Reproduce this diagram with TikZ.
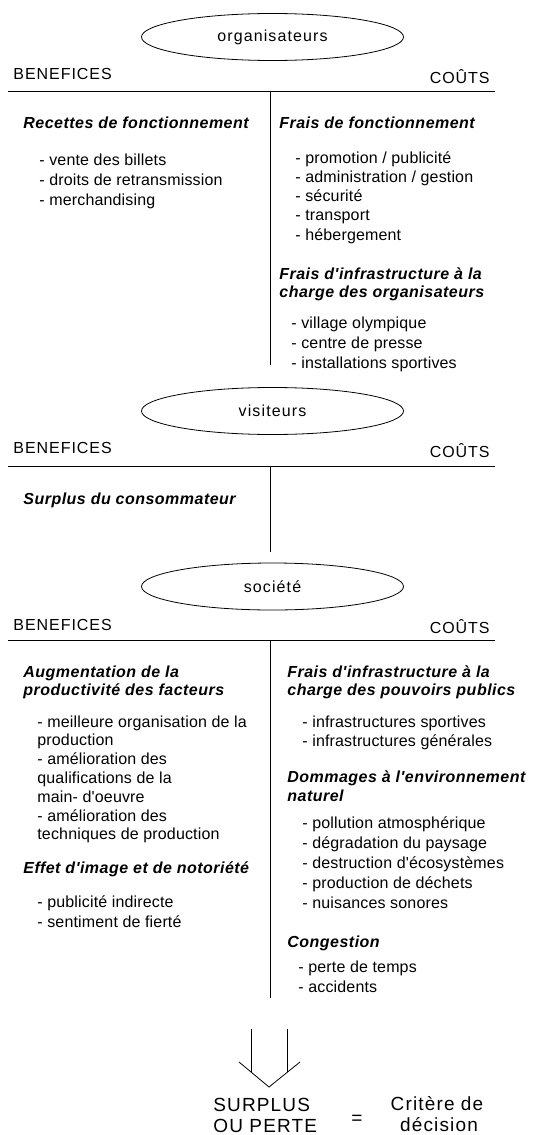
\documentclass[tikz,border=0pt]{standalone}
\usepackage{fontspec}
\setmainfont{Liberation Sans}
\newfontfamily\fgroupe[LetterSpace=7,Ligatures=TeXOff]{Liberation Sans}
\newfontfamily\fentete[LetterSpace=6,Ligatures=TeXOff]{Liberation Sans}
\newfontfamily\frub[LetterSpace=3,Ligatures=TeXOff]{Liberation Sans}
\newfontfamily\fposte[LetterSpace=1,Ligatures=TeXOff]{Liberation Sans}
\newcommand\fontgroupe{\fgroupe\fontsize{16}{19}\selectfont}
\newcommand\fontentete{\fentete\fontsize{16}{19}\selectfont}
\newcommand\fontrub{\frub\bfseries\itshape\fontsize{16}{19}\selectfont}
\newcommand\fontposte{\fposte\fontsize{16}{19}\selectfont}
\newcommand\fontbilan{\fentete\fontsize{19}{21}\selectfont}
\usetikzlibrary{shapes.geometric}

\begin{document}
\begin{tikzpicture}[x=1pt,y=-1pt,line width=0.8pt,
  groupe/.style={draw,ellipse,minimum width=262pt,minimum height=47pt,inner sep=0pt,font=\fontgroupe},
  entete/.style={inner sep=0pt,font=\fontentete},
  rubrique/.style={anchor=base west,inner sep=0pt,font=\fontrub},
  poste/.style={anchor=base west,inner sep=0pt,font=\fontposte},
  bilan/.style={inner sep=0pt,font=\fontbilan}]
\useasboundingbox (0,0) rectangle (548,1135);

% organisateurs
\node[groupe] (org) at (272.5,37) {organisateurs};
\node[entete,anchor=base west] (org-ben) at (13,79) {BENEFICES};
\node[entete,anchor=base east] (org-cou) at (490,83) {COÛTS};
\coordinate (org-h) at (270,91);
\draw (8,91) -- (495,91);
\draw (org-h) -- ++(0,274);
\node[rubrique] (org-rb) at (23,128) {Recettes de fonctionnement};
\foreach \t [count=\i] in {- vente des billets, - droits de retransmission, - merchandising}
  \node[poste] (org-b\i) at (39,145+20*\i) {\t};
\node[rubrique] (org-rc) at (279,128) {Frais de fonctionnement};
\foreach \t [count=\i] in {- promotion / publicité, - administration / gestion, - sécurité, - transport, - hébergement}
  \node[poste] (org-c\i) at (295,143.7+19.3*\i) {\t};
\node[rubrique] (org-ri1) at (279,279) {Frais d'infrastructure à la};
\node[rubrique] (org-ri2) at (279,297) {charge des organisateurs};
\foreach \t [count=\i] in {- village olympique, - centre de presse, - installations sportives}
  \node[poste] (org-i\i) at (291,308+20*\i) {\t};

% visiteurs
\node[groupe] (vis) at (272.5,411) {visiteurs};
\node[entete,anchor=base west] (vis-ben) at (13,453) {BENEFICES};
\node[entete,anchor=base east] (vis-cou) at (490,457) {COÛTS};
\coordinate (vis-h) at (270,466);
\draw (8,466) -- (495,466);
\draw (vis-h) -- ++(0,86);
\node[rubrique] (vis-rb) at (23,504) {Surplus du consommateur};

% societe
\node[groupe] (soc) at (272.5,586.5) {société};
\node[entete,anchor=base west] (soc-ben) at (13,630) {BENEFICES};
\node[entete,anchor=base east] (soc-cou) at (490,633) {COÛTS};
\coordinate (soc-h) at (270,640);
\draw (8,640) -- (495,640);
\draw (soc-h) -- ++(0,358);
\node[rubrique] (soc-ra1) at (23,677) {Augmentation de la};
\node[rubrique] (soc-ra2) at (23,695) {productivité des facteurs};
\foreach \t [count=\i] in {- meilleure organisation de la, production, - amélioration des, qualifications de la, main- d'oeuvre, - amélioration des, techniques de production}
  \node[poste] (soc-p\i) at (37,708.2+18.8*\i) {\t};
\node[rubrique] (soc-re) at (23,873) {Effet d'image et de notoriété};
\foreach \t [count=\i] in {- publicité indirecte, - sentiment de fierté}
  \node[poste] (soc-e\i) at (37,887+20*\i) {\t};
\node[rubrique] (soc-ri1) at (287,677) {Frais d'infrastructure à la};
\node[rubrique] (soc-ri2) at (287,695) {charge des pouvoirs publics};
\foreach \t [count=\i] in {- infrastructures sportives, - infrastructures générales}
  \node[poste] (soc-i\i) at (302,708+19*\i) {\t};
\node[rubrique] (soc-rd1) at (287,782) {Dommages à l'environnement};
\node[rubrique] (soc-rd2) at (287,801) {naturel};
\foreach \t [count=\i] in {- pollution atmosphérique, - dégradation du paysage, - destruction d'écosystèmes, - production de déchets, - nuisances sonores}
  \node[poste] (soc-d\i) at (302,808+20*\i) {\t};
\node[rubrique] (soc-rg) at (287,947) {Congestion};
\foreach \t [count=\i] in {- perte de temps, - accidents}
  \node[poste] (soc-g\i) at (298,952+20*\i) {\t};

% fleche et bilan
\coordinate (fl-g) at (251,1029);
\coordinate (fl-d) at (287,1029);
\coordinate (fl-p) at (269,1087);
\draw (fl-g) -- ++(0,43);
\draw (fl-d) -- ++(0,43);
\draw (fl-p) ++(-30,-25) -- (fl-p) -- ++(31,-25);
\node[bilan,anchor=base west] (surplus) at (213,1111) {SURPLUS};
\node[bilan,anchor=base west] (perte) at (213,1132) {OU PERTE};
\node[bilan,anchor=base] (egal) at (357,1124) {=};
\node[bilan,anchor=base] (critere) at (437,1110) {Critère de};
\node[bilan,anchor=base] (decision) at (439,1131) {décision};
\end{tikzpicture}
\end{document}
